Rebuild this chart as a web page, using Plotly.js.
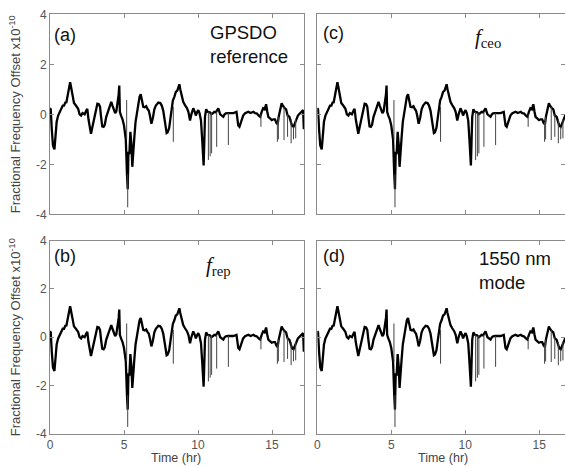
<!DOCTYPE html>
<html>
<head>
<meta charset="utf-8">
<script src="https://cdn.plot.ly/plotly-3.0.1.min.js"></script>
<style>html,body{margin:0;padding:0;background:#fff;}#chart{width:565px;height:466px;}</style>
</head>
<body>
<div id="chart"></div>
<script>
// Time (hr) and fractional frequency offset (x1e-10)
const timeHr = [0.0,0.05,0.12,0.2,0.3,0.38,0.45,0.55,0.65,0.75,0.86,0.95,1.05,1.1,1.2,1.3,1.36,1.42,1.5,1.62,1.75,1.9,2.0,2.1,2.2,2.34,2.45,2.52,2.6,2.7,2.77,2.85,2.97,3.1,3.2,3.3,3.38,3.45,3.53,3.62,3.7,3.8,3.92,4.05,4.14,4.22,4.3,4.4,4.48,4.56,4.64,4.68,4.72,4.8,4.9,5.0,5.06,5.12,5.2,5.25,5.3,5.36,5.43,5.5,5.56,5.62,5.7,5.78,5.86,5.95,6.05,6.13,6.2,6.3,6.4,6.5,6.6,6.67,6.75,6.85,6.95,7.05,7.15,7.32,7.45,7.55,7.65,7.72,7.8,7.88,7.95,8.05,8.15,8.22,8.3,8.4,8.5,8.6,8.67,8.74,8.8,8.9,9.0,9.12,9.25,9.35,9.42,9.46,9.55,9.68,9.78,9.85,9.95,10.02,10.1,10.2,10.28,10.33,10.38,10.42,10.47,10.55,10.65,10.8,10.9,11.0,11.1,11.2,11.37,11.5,11.6,11.71,11.8,11.88,12.0,12.2,12.4,12.6,12.65,12.72,12.8,12.9,12.95,13.05,13.18,13.3,13.4,13.55,13.75,13.85,13.96,14.1,14.2,14.3,14.4,14.5,14.6,14.68,14.75,14.86,14.98,15.1,15.2,15.3,15.38,15.45,15.54,15.6,15.65,15.72,15.77,15.85,15.95,16.05,16.17,16.25,16.35,16.45,16.55,16.65,16.75,16.85,16.95,17.0,17.1,17.15];
const offset = [0.25,0.2,-0.6,-1.25,-1.4,-0.9,-0.3,-0.05,0.1,0.2,0.35,0.35,0.5,0.45,0.8,1.2,1.28,1.1,0.8,0.45,0.35,0.22,0.0,-0.05,0.05,0.0,0.15,0.22,-0.2,-0.65,-0.78,-0.55,-0.2,0.2,0.42,0.4,0.3,-0.1,-0.48,-0.5,-0.42,-0.1,0.1,0.3,0.5,0.35,0.17,0.05,0.12,0.4,0.8,1.15,0.1,-0.05,-0.2,-0.45,-0.8,-1.0,-2.4,-3.0,-1.5,-1.6,-0.7,-1.2,-2.1,-1.4,-0.9,-0.3,0.05,0.45,0.7,0.8,0.6,0.3,0.28,0.32,0.2,0.15,-0.05,-0.38,-0.15,0.2,0.35,0.47,0.45,0.35,0.15,-0.1,-0.55,-0.75,-0.72,-0.55,-0.1,0.3,0.55,0.7,0.9,0.95,1.05,1.2,1.0,0.7,0.5,0.37,0.25,0.1,-0.1,-0.25,0.0,0.24,0.1,-0.05,0.1,0.17,0.05,-0.25,-1.0,-1.9,-2.05,-1.2,-0.1,0.2,0.1,0.08,0.0,0.04,0.1,0.08,0.24,0.0,-0.05,-0.1,0.0,0.04,0.05,0.04,0.05,0.1,-0.15,-0.45,-0.5,-0.35,-0.23,-0.05,0.04,0.08,0.1,0.05,0.1,0.05,0.04,-0.05,-0.1,0.1,0.24,0.2,0.4,0.1,-0.1,-0.16,-0.23,-0.2,-0.2,-0.35,-0.4,-0.1,0.1,0.35,0.44,0.35,0.3,0.25,0.2,-0.05,-0.1,-0.3,-0.45,-0.5,-0.3,-0.2,-0.05,0.04,0.08,0.1,0.17,-0.6];
// Narrow glitches (thin vertical spikes)
const spikeTime = [5.18,5.25,8.33,10.7,10.82,10.92,11.26,12.05,14.25,15.36,15.43,15.81,16.05,16.29,16.45,16.6];
const spikeLow  = [-1.0,-3.72,-1.1,-1.83,-1.68,-1.56,-1.3,-1.23,-0.5,-1.1,-1.0,-1.03,-0.9,-1.16,-1.0,-0.96];
const spikeHigh = [0.57,-2.4,0.3,0.1,0.05,0.05,0.1,0.05,0.0,-0.3,-0.1,0.3,0.0,-0.2,-0.5,-0.2];
const xTicks = [0,5,10,15];
const yTicks = [-4,-2,0,2,4];
const panelLabels = ['(a)','(c)','(b)','(d)'];

const W = 565, H = 466;
const px = x => x / W, py = y => 1 - y / H;

const sx = [], sy = [];
spikeTime.forEach((t,i) => { sx.push(t,t,null); sy.push(spikeLow[i], spikeHigh[i], null); });

const axesIds = [['x','y'],['x2','y2'],['x3','y3'],['x4','y4']];
const traces = [];
axesIds.forEach(([xa,ya]) => {
  traces.push({x: timeHr, y: offset, xaxis: xa, yaxis: ya, type: 'scatter', mode: 'lines',
    line: {color: '#000', width: 2.3}, hoverinfo: 'skip'});
  traces.push({x: sx, y: sy, xaxis: xa, yaxis: ya, type: 'scatter', mode: 'lines',
    line: {color: '#444', width: 1}, hoverinfo: 'skip', connectgaps: false});
});

const axisCommon = {showgrid: false, zeroline: false, showline: true, linecolor: '#8a8a8a', linewidth: 1,
  mirror: 'ticks', ticks: 'inside', ticklen: 4, tickcolor: '#8a8a8a',
  tickfont: {family: 'Liberation Sans, Arial, sans-serif', size: 12, color: '#555'}, fixedrange: true};

const leftDom = [px(50), px(304)], rightDom = [px(317.3), 1];
const topDom = [py(214.3), py(14.3)], botDom = [py(433.7), py(240.7)];

function xax(dom, range, anchor, labels) {
  return Object.assign({}, axisCommon, {domain: dom, range: range, anchor: anchor, tickvals: xTicks,
    showticklabels: labels, ticklabelstandoff: 0});
}
function yax(dom, anchor, labels) {
  return Object.assign({}, axisCommon, {domain: dom, range: [-4,4], anchor: anchor, tickvals: yTicks,
    ticktext: yTicks.map(v => String(v)), showticklabels: labels, ticklabelstandoff: 0});
}

const txt = {family: 'Liberation Sans, Arial, sans-serif', color: '#111'};
const ann = [];
function addAnn(text, x, y, opts) {
  ann.push(Object.assign({text: text, x: px(x), y: py(y), xref: 'paper', yref: 'paper', showarrow: false,
    xanchor: 'left', yanchor: 'middle', align: 'left', font: Object.assign({}, txt, {size: 18})}, opts || {}));
}
addAnn(panelLabels[0], 52, 34.5);
addAnn(panelLabels[1], 321, 32.5);
addAnn(panelLabels[2], 52, 255.5);
addAnn(panelLabels[3], 321, 255.5);
addAnn('GPSDO<br>reference', 208, 45, {font: Object.assign({}, txt, {size: 18.5})});
addAnn('1550 nm<br>mode', 477, 270, {font: Object.assign({}, txt, {size: 18.5})});
addAnn('<i>f</i><sub>ceo</sub>', 473, 38, {font: {family: 'Liberation Serif, Times New Roman, serif', size: 21, color: '#111'}});
addAnn('<i>f</i><sub>rep</sub>', 204, 266, {font: {family: 'Liberation Serif, Times New Roman, serif', size: 21, color: '#111'}});
const yTitle = 'Fractional Frequency Offset x10<sup>-10</sup>';
addAnn(yTitle, 15, 114.3, {xanchor: 'center', textangle: -90, font: {family: 'Liberation Sans, Arial, sans-serif', size: 13, color: '#444'}});
addAnn(yTitle, 15, 337.2, {xanchor: 'center', textangle: -90, font: {family: 'Liberation Sans, Arial, sans-serif', size: 13, color: '#444'}});
addAnn('Time (hr)', 176, 458, {xanchor: 'center', font: {family: 'Liberation Sans, Arial, sans-serif', size: 12.5, color: '#444'}});
addAnn('Time (hr)', 443, 458, {xanchor: 'center', font: {family: 'Liberation Sans, Arial, sans-serif', size: 12.5, color: '#444'}});

const layout = {
  width: W, height: H, margin: {l: 0, r: 0, t: 0, b: 0}, showlegend: false,
  paper_bgcolor: '#fff', plot_bgcolor: '#fff',
  xaxis: xax(leftDom, [0, 17.16], 'y', false),
  yaxis: yax(topDom, 'x', true),
  xaxis2: xax(rightDom, [0, 16.74], 'y2', false),
  yaxis2: yax(topDom, 'x2', false),
  xaxis3: xax(leftDom, [0, 17.16], 'y3', true),
  yaxis3: yax(botDom, 'x3', true),
  xaxis4: xax(rightDom, [0, 16.74], 'y4', true),
  yaxis4: yax(botDom, 'x4', false),
  annotations: ann
};
Plotly.newPlot('chart', traces, layout, {staticPlot: true, displayModeBar: false});
</script>
</body>
</html>
